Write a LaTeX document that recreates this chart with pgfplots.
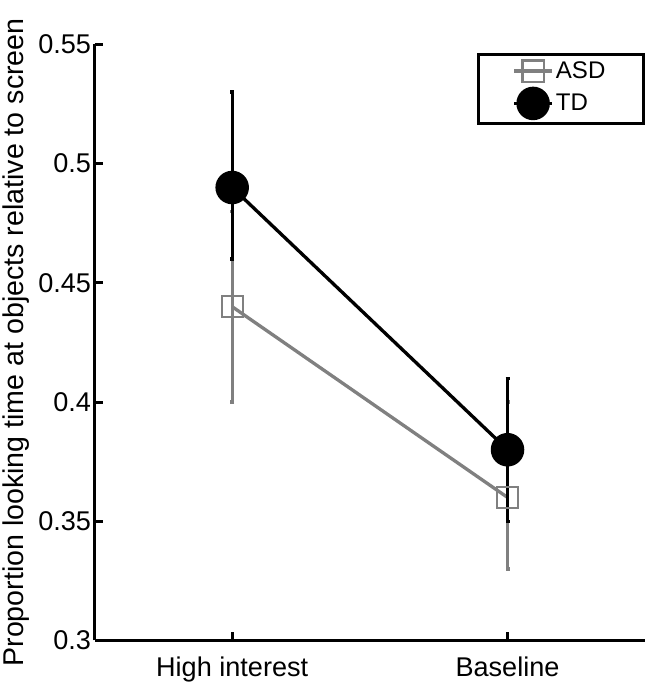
\documentclass[border=0pt]{standalone}
\usepackage{fontspec}
\setmainfont{Liberation Sans}
\usepackage{pgfplots}
\pgfplotsset{compat=1.18}
\definecolor{asdgray}{RGB}{128,128,128}
\begin{document}
\begin{tikzpicture}
\begin{axis}[
  scale only axis, width=547bp, height=592bp,
  xmin=0.5, xmax=2.5, ymin=0.3, ymax=0.55,
  xtick={1,2}, xticklabels={High interest, Baseline},
  ytick={0.3,0.35,0.4,0.45,0.5,0.55},
  yticklabels={0.3,0.35,0.4,0.45,0.5,0.55},
  axis x line*=bottom, axis y line*=left,
  axis line style={line width=3bp, -},
  tick align=inside, major tick length=8bp,
  tick style={line width=3bp, black},
  ticklabel style={font=\fontsize{27}{30}\selectfont},
  xticklabel style={inner sep=0pt, yshift=-16bp},
  /pgf/number format/assume math mode=true,
  title={\strut},
  title style={inner sep=0pt, minimum height=38bp, at={(axis description cs:0.5,1)}, anchor=south},
  ylabel={Proportion looking time at objects relative to screen},
  ylabel style={font=\fontsize{28.5}{34}\selectfont, inner sep=3bp,
    at={(axis description cs:-0.172,0.5)}, anchor=north},
  legend style={at={(1,0.985)}, anchor=north east, draw=black, line width=3bp,
    font=\fontsize{24}{28}\selectfont, inner xsep=0pt, inner ysep=5bp,
    nodes={inner xsep=2bp, inner ysep=2bp},
    cells={anchor=west}, row sep=6bp},
  legend image code/.code={\path[draw=none, fill=none] (-35bp,0bp) -- (0bp,0bp);
    \draw[mark repeat=2, mark phase=2] plot coordinates {(0bp,0bp) (19bp,0bp) (38bp,0bp)};},
]
\addplot[asdgray, line width=3.3bp, mark=square, mark size=10.5bp,
  mark options={line width=2.2bp, solid},
  error bars/.cd, y dir=both, y explicit,
  error bar style={line width=3.3bp, asdgray},
  error mark options={rotate=90, mark size=2bp, line width=3.3bp, asdgray}]
coordinates {
(1,0.44) +=(1,0.04) -=(1,0.04)
(2,0.36) +=(2,0.04) -=(2,0.03)
};
\addplot[black, line width=3.3bp, mark=*, mark size=15bp,
  mark options={fill=black, solid},
  error bars/.cd, y dir=both, y explicit,
  error bar style={line width=3.3bp, black},
  error mark options={rotate=90, mark size=2bp, line width=3.3bp, black}]
coordinates {
(1,0.49) +=(1,0.04) -=(1,0.03)
(2,0.38) +=(2,0.03) -=(2,0.03)
};
\legend{ASD\rule{36bp}{0pt}, TD}
\end{axis}
\end{tikzpicture}
\end{document}
